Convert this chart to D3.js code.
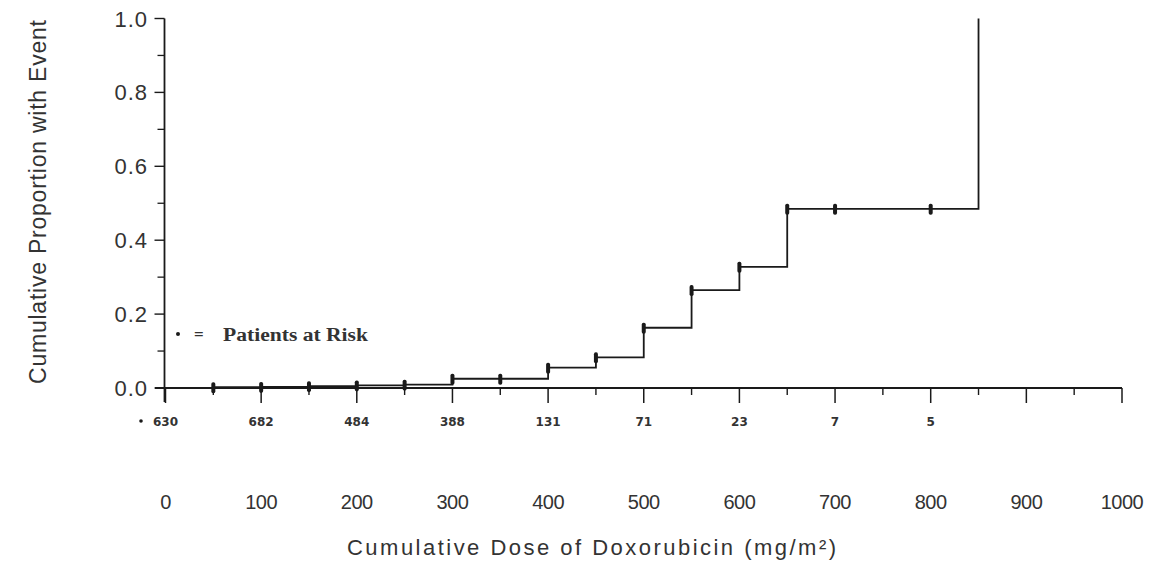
<!DOCTYPE html>
<html>
<head>
<meta charset="utf-8">
<script src="https://cdn.jsdelivr.net/npm/d3@7"></script>
<style>
  html, body { margin: 0; padding: 0; background: #fff; }
  svg { display: block; }
</style>
</head>
<body>
<svg id="chart" width="1152" height="563"></svg>
<script>
// ---- data ----
const stepDose = [0, 50, 100, 150, 200, 250, 300, 400, 450, 500, 550, 600, 650, 850];
const stepProp = [0, 0.002, 0.003, 0.005, 0.007, 0.009, 0.025, 0.055, 0.083, 0.163, 0.265, 0.328, 0.485, 1.0];
const markerDose = [50, 100, 150, 200, 250, 300, 350, 400, 450, 500, 550, 600, 650, 700, 800];
const riskDose = [0, 100, 200, 300, 400, 500, 600, 700, 800];
const riskCount = ["630", "682", "484", "388", "131", "71", "23", "7", "5"];
const xTicks = [0, 100, 200, 300, 400, 500, 600, 700, 800, 900, 1000];
const yTicks = [0, 0.2, 0.4, 0.6, 0.8, 1.0];

const svg = d3.select("#chart");
const x = d3.scaleLinear().domain([0, 1000]).range([165.5, 1122]);
const y = d3.scaleLinear().domain([0, 1]).range([388, 18.5]);

const ink = "#1a1a1a";
const sans = "'Liberation Sans', Arial, sans-serif";

function propAt(d) {
  let v = 0;
  for (let i = 0; i < stepDose.length; i++) if (stepDose[i] <= d) v = stepProp[i];
  return v;
}

// ---- x axis ----
svg.append("line")
  .attr("x1", 155).attr("x2", x(1000))
  .attr("y1", y(0)).attr("y2", y(0))
  .attr("stroke", ink).attr("stroke-width", 1.8);

const xMinor = d3.range(50, 1000, 100);
svg.append("g").selectAll("line").data(xTicks).join("line")
  .attr("x1", d => x(d)).attr("x2", d => x(d))
  .attr("y1", y(0)).attr("y2", y(0) + 15)
  .attr("stroke", ink).attr("stroke-width", 1.5);
svg.append("g").selectAll("line").data(xMinor).join("line")
  .attr("x1", d => x(d)).attr("x2", d => x(d))
  .attr("y1", y(0)).attr("y2", y(0) + 7)
  .attr("stroke", ink).attr("stroke-width", 1.4);

svg.append("g").selectAll("text").data(xTicks).join("text")
  .attr("x", d => x(d)).attr("y", 509)
  .attr("text-anchor", "middle")
  .attr("font-family", sans).attr("font-size", 20)
  .attr("letter-spacing", -0.5)
  .attr("fill", "#333")
  .text(d => d);

// ---- y axis ----
svg.append("line")
  .attr("x1", x(0) - 1).attr("x2", x(0) - 1)
  .attr("y1", y(1)).attr("y2", y(0) + 14)
  .attr("stroke", ink).attr("stroke-width", 1.8);

const yMinor = d3.range(0.1, 1.0, 0.2);
svg.append("g").selectAll("line").data(yTicks).join("line")
  .attr("x1", x(0) - 11).attr("x2", x(0) - 1)
  .attr("y1", d => y(d)).attr("y2", d => y(d))
  .attr("stroke", ink).attr("stroke-width", 1.4);
svg.append("g").selectAll("line").data(yMinor).join("line")
  .attr("x1", x(0) - 8).attr("x2", x(0) - 1)
  .attr("y1", d => y(d)).attr("y2", d => y(d))
  .attr("stroke", ink).attr("stroke-width", 1.3);

svg.append("g").selectAll("text").data(yTicks).join("text")
  .attr("x", 148).attr("y", d => y(d) + 8)
  .attr("text-anchor", "end")
  .attr("font-family", sans).attr("font-size", 22)
  .attr("letter-spacing", 1)
  .attr("fill", "#333")
  .text(d => d3.format(".1f")(d));

// ---- titles ----
svg.append("text")
  .attr("x", 347).attr("y", 555)
  .attr("font-family", sans).attr("font-size", 22)
  .attr("fill", "#333")
  .attr("textLength", 489).attr("lengthAdjust", "spacing")
  .text("Cumulative Dose of Doxorubicin (mg/m²)");

svg.append("text")
  .attr("transform", "translate(46,384) rotate(-90)")
  .attr("font-family", sans).attr("font-size", 23)
  .attr("fill", "#333")
  .attr("textLength", 364).attr("lengthAdjust", "spacing")
  .text("Cumulative Proportion with Event");

// ---- step curve ----
const stepData = stepDose.map((d, i) => [d, stepProp[i]]);
const line = d3.line().x(d => x(d[0])).y(d => y(d[1])).curve(d3.curveStepAfter);
svg.append("path")
  .datum(stepData)
  .attr("d", line)
  .attr("fill", "none")
  .attr("stroke", ink).attr("stroke-width", 1.8);

svg.append("g").selectAll("rect").data(markerDose).join("rect")
  .attr("x", d => x(d) - 2)
  .attr("y", d => y(propAt(d)) - 5)
  .attr("width", 4).attr("height", 11)
  .attr("rx", 1.8)
  .attr("fill", ink);

// ---- patients at risk ----
svg.append("g").selectAll("text").data(riskDose).join("text")
  .attr("x", d => x(d)).attr("y", 426)
  .attr("text-anchor", "middle")
  .attr("font-family", "'DejaVu Sans', sans-serif").attr("font-size", 12)
  .attr("font-weight", "bold")
  .attr("fill", "#333")
  .text((d, i) => riskCount[i]);

svg.append("circle")
  .attr("cx", 141).attr("cy", 421).attr("r", 1.8).attr("fill", ink);

// legend
svg.append("circle")
  .attr("cx", 178).attr("cy", 334).attr("r", 2).attr("fill", ink);
svg.append("text")
  .attr("x", 194).attr("y", 340)
  .attr("font-family", "'Liberation Serif', serif").attr("font-size", 17)
  .attr("font-weight", "bold").attr("fill", "#333")
  .text("=");
svg.append("text")
  .attr("x", 223).attr("y", 341)
  .attr("font-family", "'Liberation Serif', serif").attr("font-size", 18)
  .attr("font-weight", "bold").attr("fill", "#333")
  .attr("textLength", 145).attr("lengthAdjust", "spacingAndGlyphs")
  .text("Patients at Risk");
</script>
</body>
</html>
